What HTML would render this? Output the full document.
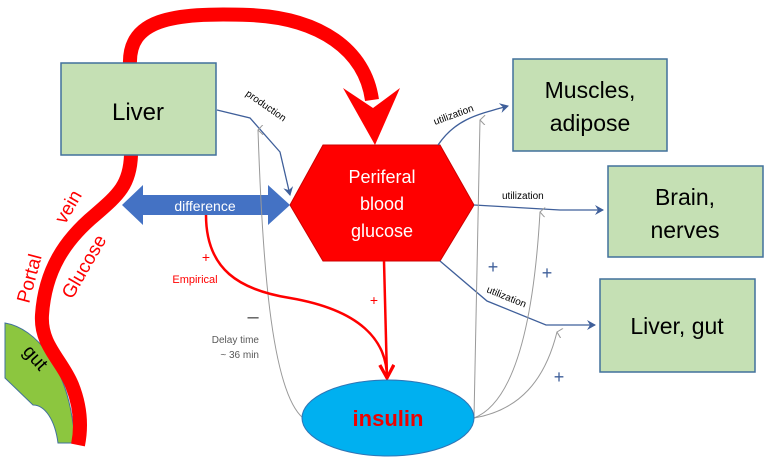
<!DOCTYPE html>
<html><head><style>
html,body{margin:0;padding:0;background:#fff;}
svg{display:block;font-family:"Liberation Sans",Calibri,sans-serif;}
</style></head><body>
<svg width="767" height="459" viewBox="0 0 767 459" xmlns="http://www.w3.org/2000/svg">
<defs>
<marker id="ab" markerWidth="10" markerHeight="10" refX="8" refY="5" orient="auto" markerUnits="userSpaceOnUse"><path d="M0,0 L9,5 L0,10 L3,5 Z" fill="#3f5f9a"/></marker>
<marker id="ag" markerWidth="10" markerHeight="10" refX="5" refY="1" orient="auto" markerUnits="userSpaceOnUse"><path d="M0,6 L5,1 L10,6" fill="none" stroke="#999" stroke-width="1"/></marker>
<marker id="ar" markerWidth="18" markerHeight="18" refX="15" refY="8" orient="auto" markerUnits="userSpaceOnUse"><path d="M2,1 L15,8 L2,15" fill="none" stroke="#f00" stroke-width="3"/></marker>
</defs>
<!-- big red arrow -->
<path d="M130,65 C128,20 170,12 250,15 C320,18 365,50 372,100" fill="none" stroke="#f00" stroke-width="14"/>
<path d="M343,88 L375,145 L400,88 L373,108 Z" fill="#f00"/>
<!-- gut -->
<path d="M5,323 C35,328 70,365 75,443 L58,443 C55,420 45,405 33,405 L5,378 Z" fill="#8cc63f" stroke="#41719c" stroke-width="1"/>
<!-- portal vein -->
<path d="M131,155 C130,185 118,195 95,215 C65,240 45,270 42,315 C40,345 62,360 72,385 C80,405 82,425 78,445" fill="none" stroke="#f00" stroke-width="14"/>
<text font-size="19" transform="translate(22,352) rotate(48)">gut</text>
<text font-size="19" fill="#f00" transform="translate(29,304) rotate(-75)">Portal</text>
<text font-size="19" fill="#f00" transform="translate(65,225) rotate(-60)">vein</text>
<text font-size="19" fill="#f00" transform="translate(72,300) rotate(-60)">Glucose</text>
<!-- boxes -->
<rect x="61" y="63" width="155" height="92" fill="#c5e0b4" stroke="#41719c" stroke-width="1.5"/>
<text x="138" y="120" font-size="24" text-anchor="middle">Liver</text>
<rect x="513" y="59" width="154" height="92" fill="#c5e0b4" stroke="#41719c" stroke-width="1.5"/>
<text x="590" y="98" font-size="23" text-anchor="middle">Muscles,</text>
<text x="590" y="131" font-size="23" text-anchor="middle">adipose</text>
<rect x="608" y="166" width="155" height="91" fill="#c5e0b4" stroke="#41719c" stroke-width="1.5"/>
<text x="685" y="205" font-size="23" text-anchor="middle">Brain,</text>
<text x="685" y="238" font-size="23" text-anchor="middle">nerves</text>
<rect x="600" y="279" width="155" height="93" fill="#c5e0b4" stroke="#41719c" stroke-width="1.5"/>
<text x="677" y="334" font-size="23" text-anchor="middle">Liver, gut</text>
<!-- hexagon -->
<polygon points="290,205 323,145 440,145 474,205 440,261 323,261" fill="#f00" stroke="#c00" stroke-width="1"/>
<text x="382" y="183" font-size="18" fill="#fff" text-anchor="middle">Periferal</text>
<text x="382" y="210" font-size="18" fill="#fff" text-anchor="middle">blood</text>
<text x="382" y="237" font-size="18" fill="#fff" text-anchor="middle">glucose</text>
<!-- difference -->
<polygon points="122,205 143,185 143,195 268,195 268,185 290,205 268,225 268,215 143,215 143,225" fill="#4472c4"/>
<text x="205" y="211" font-size="14" fill="#fff" text-anchor="middle">difference</text>
<!-- production -->
<path d="M217,110 L250,118 L280,152 L290,195" fill="none" stroke="#3f5f9a" stroke-width="1.3" marker-end="url(#ab)"/>
<text font-size="10" transform="translate(245,95) rotate(35)">production</text>
<!-- utilizations -->
<path d="M438,145 C455,120 475,115 508,106" fill="none" stroke="#3f5f9a" stroke-width="1.3" marker-end="url(#ab)"/>
<text font-size="10" transform="translate(435,125) rotate(-20)">utilization</text>
<path d="M474,205 L560,210 L603,210" fill="none" stroke="#3f5f9a" stroke-width="1.3" marker-end="url(#ab)"/>
<text x="502" y="199" font-size="10">utilization</text>
<path d="M440,261 L487,301 L546,325 L595,325" fill="none" stroke="#3f5f9a" stroke-width="1.3" marker-end="url(#ab)"/>
<text font-size="10" transform="translate(486,292) rotate(22)">utilization</text>
<!-- grey arrows -->
<path d="M303,418 C270,390 262,250 258,130" fill="none" stroke="#999" stroke-width="1" marker-end="url(#ag)"/>
<path d="M474,418 C476,300 478,200 480,120" fill="none" stroke="#999" stroke-width="1" marker-end="url(#ag)"/>
<path d="M474,418 C520,400 535,300 540,212" fill="none" stroke="#999" stroke-width="1" marker-end="url(#ag)"/>
<path d="M474,418 C520,410 545,380 557,332" fill="none" stroke="#999" stroke-width="1" marker-end="url(#ag)"/>
<text x="493" y="273" font-size="18" fill="#3f5f9a" text-anchor="middle">+</text>
<text x="547" y="279" font-size="18" fill="#3f5f9a" text-anchor="middle">+</text>
<text x="559" y="383" font-size="18" fill="#3f5f9a" text-anchor="middle">+</text>
<!-- red to insulin -->
<path d="M206,215 C206,270 240,290 290,298 C360,310 387,340 387,378" fill="none" stroke="#f00" stroke-width="2.5" marker-end="url(#ar)"/>
<path d="M384,261 L387,378" fill="none" stroke="#f00" stroke-width="2.5" marker-end="url(#ar)"/>
<text x="206" y="262" font-size="14" fill="#f00" text-anchor="middle">+</text>
<text x="195" y="283" font-size="11" fill="#f00" text-anchor="middle">Empirical</text>
<text x="374" y="305" font-size="14" fill="#f00" text-anchor="middle">+</text>
<text x="253" y="323" font-size="20" fill="#555" text-anchor="middle">–</text>
<text x="259" y="343" font-size="10" fill="#595959" text-anchor="end">Delay time</text>
<text x="259" y="358" font-size="10" fill="#595959" text-anchor="end">~ 36 min</text>
<!-- insulin -->
<ellipse cx="388" cy="418" rx="86" ry="38" fill="#00b0f0" stroke="#2e75b6" stroke-width="1"/>
<text x="388" y="426" font-size="22" font-weight="bold" fill="#e00" text-anchor="middle">insulin</text>
</svg>
</body></html>
